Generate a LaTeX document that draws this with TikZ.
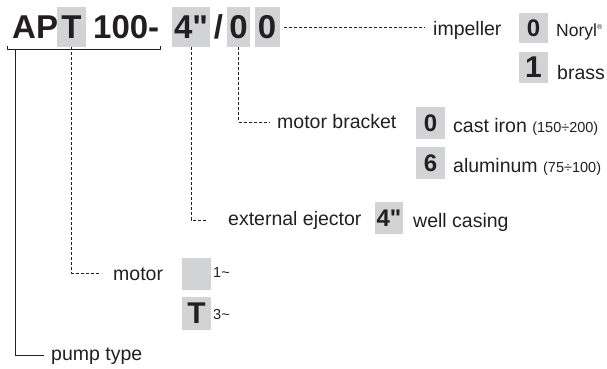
\documentclass[tikz,border=0pt]{standalone}
\usepackage{fontspec}
\setmainfont{Liberation Sans}[Ligatures=TeXOff]
\definecolor{boxgray}{RGB}{209,211,212}
\definecolor{ink}{RGB}{35,31,32}
\begin{document}
\begin{tikzpicture}[x=1pt,y=-1pt,line join=round,
	title/.style={font=\fontsize{33}{33}\bfseries\selectfont,text=ink,inner sep=0,text height=31pt,text depth=9pt,anchor=base},
	tbox/.style={title,fill=boxgray},
	lbl/.style={font=\fontsize{19.5}{20}\selectfont,text=ink,inner sep=0,anchor=base west},
	small/.style={font=\fontsize{14.5}{15}\selectfont,text=ink,inner sep=0,anchor=base west},
	optbox/.style={fill=boxgray,text=ink,inner sep=0,minimum width=29pt,minimum height=32pt,font=\fontsize{24}{24}\bfseries\selectfont},
	bigopt/.style={optbox,font=\fontsize{30}{30}\bfseries\selectfont},
	dashline/.style={ink,line width=.8pt,dash pattern=on 3pt off 2pt},
	pipe/.style={ink,line width=1pt}]
	 \useasboundingbox (0,0) rectangle (607,369);
	 % code
	 \node[title,anchor=base west] (ap) at (12,38) {AP};
	 \node[tbox,minimum width=29pt] (t) at (71.5,38) {T};
	 \node[title,anchor=base west] (num) at (93,38) {100-};
	 \node[tbox,minimum width=38pt] (q4) at (191,38) {4"};
	 \node[title] (sl) at (218.5,38) {/};
	 \node[tbox,minimum width=23pt] (z1) at (238.5,38) {0};
	 \node[tbox,minimum width=25pt] (z2) at (267,38) {0};
	 % labels
	 \node[lbl] (imp) at (433,36) {impeller};
	 \node[optbox,minimum height=30pt] (imp0) at (533.5,28) {0};
	 \node[bigopt,minimum height=31pt] (imp1) at (533.5,67.5) {1};
	 \node[lbl,font=\fontsize{17.5}{18}\selectfont] (noryl) at (556,37) {Noryl\raisebox{7pt}{\fontsize{7}{7}\selectfont ®}};
	 \node[lbl] (brass) at (557,79) {brass};
	 \node[lbl] (mb) at (277,128) {motor bracket};
	 \node[optbox] (mb0) at (430.5,123) {0};
	 \node[optbox] (mb6) at (430.5,163) {6};
	 \node[lbl] (iron) at (453,132) {cast iron {\fontsize{14.5}{15}\selectfont (150÷200)}};
	 \node[lbl] (alu) at (453,172) {aluminum {\fontsize{14.5}{15}\selectfont (75÷100)}};
	 \node[lbl] (ej) at (228,225) {external ejector};
	 \node[optbox,minimum width=28pt] (ej4) at (389,218) {4"};
	 \node[lbl] (well) at (413,227) {well casing};
	 \node[lbl] (mot) at (113,280) {motor};
	 \node[optbox] (m1) at (196.5,273.5) {};
	 \node[bigopt,minimum height=33pt] (mT) at (196.5,313.5) {T};
	 \node[small] (ph1) at (213,277) {1\textasciitilde};
	 \node[small] (ph3) at (213,319) {3\textasciitilde};
	 \node[lbl] (pump) at (51,360) {pump type};
	 % connectors
	 \coordinate (impend) at (425,27);
	 \coordinate (mbend) at (270,122);
	 \coordinate (ejend) at (207,220);
	 \coordinate (motend) at (100,273);
	 \coordinate (brL) at (7,46);
	 \coordinate (brR) at (160,46);
	 \coordinate (pumptop) at (15,50);
	 \coordinate (pumpend) at (44,355);
	 \draw[dashline,shorten <=4pt] (z2.east)--(impend);
	 \draw[dashline] (z1.south)|-(mbend);
	 \draw[dashline] (q4.south)|-(ejend);
	 \draw[dashline] (t.south)|-(motend);
	 \draw[pipe] (brL)--++(0,4)-|(brR);
	 \draw[pipe] (pumptop)|-(pumpend);
\end{tikzpicture}
\end{document}
